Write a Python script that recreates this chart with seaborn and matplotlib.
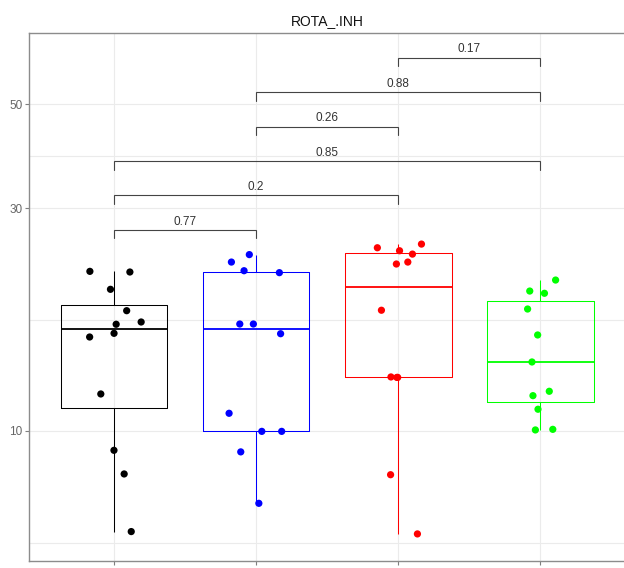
import numpy as np
import pandas as pd
import matplotlib
matplotlib.use("Agg")
import matplotlib.pyplot as plt
import seaborn as sns

# ---- data ----
groups = ["G1", "G2", "G3", "G4"]
g1_values = [21.96, 21.89, 20.10, 18.09, 17.11, 16.92, 16.18, 15.89, 12.00, 9.09, 8.09, 6.09]
g2_values = [23.85, 22.99, 22.03, 21.82, 16.94, 16.94, 16.15, 10.91, 9.98, 9.98, 9.02, 7.00]
g3_values = [25.12, 24.67, 24.31, 23.91, 22.99, 22.77, 18.13, 13.02, 13.05, 13.02, 8.06, 6.02]
g4_values = [21.04, 19.93, 19.71, 18.24, 16.05, 14.05, 12.16, 11.90, 11.13, 10.08, 10.05]
group_colors = ["#000000", "#0000FF", "#FF0000", "#00FF00"]
title = "ROTA_.INH"
y_major = [10, 30, 50]
y_minor = [5.77, 17.32, 38.73]
comparisons = [(0, 1), (0, 2), (0, 3), (1, 2), (1, 3), (2, 3)]
p_labels = ["0.77", "0.2", "0.85", "0.26", "0.88", "0.17"]

df = pd.DataFrame({
    "group": sum([[g] * len(v) for g, v in zip(groups, [g1_values, g2_values, g3_values, g4_values])], []),
    "value": g1_values + g2_values + g3_values + g4_values,
})

sns.set_style("white")
plt.rcParams["font.family"] = ["Liberation Sans", "DejaVu Sans"]

fig = plt.figure(figsize=(6.24, 5.68), dpi=100)
ax = fig.add_axes([28.7 / 624, 1 - 561.3 / 568, 596.9 / 624, 528.3 / 568])

palette = dict(zip(groups, group_colors))
sns.boxplot(data=df, x="group", y="value", hue="group", palette=palette, order=groups,
            hue_order=groups, fill=False, width=0.75, whis=1.5, showcaps=False,
            showfliers=False, log_scale=True, linewidth=0.75, legend=False, ax=ax,
            medianprops={"linewidth": 1.3}, zorder=2)

np.random.seed(7)
sns.stripplot(data=df, x="group", y="value", hue="group", palette=palette, order=groups,
              hue_order=groups, jitter=0.2, size=5.2, legend=False, ax=ax, zorder=3,
              linewidth=0)

ax.set_yscale("log")
ax.set_ylim(5.26, 71.1)
ax.set_xlim(-0.6, 3.6)
ax.set_yticks(y_major)
ax.set_yticklabels([str(v) for v in y_major])
ax.set_yticks(y_minor, minor=True)
ax.set_yticklabels([], minor=True)
ax.set_xticks(range(len(groups)))
ax.set_xticklabels([])
ax.set_xlabel("")
ax.set_ylabel("")

ax.grid(True, which="major", color="#ebebeb", linewidth=0.8, zorder=0)
ax.grid(True, which="minor", axis="y", color="#ebebeb", linewidth=0.8, zorder=0)
ax.set_axisbelow(True)
ax.tick_params(axis="y", which="major", length=3, width=0.8, color="#7f7f7f",
               labelsize=8.5, labelcolor="#666666", pad=1.5, left=True)
ax.tick_params(axis="y", which="minor", length=0)
ax.tick_params(axis="x", length=3, width=0.8, color="#7f7f7f", bottom=True)
for s in ax.spines.values():
    s.set_color("#8c8c8c")
    s.set_linewidth(1.0)

# significance brackets
base = 26.93
step = 0.0738
tip = 0.0182
for k, ((i, j), lab) in enumerate(zip(comparisons, p_labels)):
    yl = base * 10 ** (step * k)
    yt = yl / 10 ** tip
    ax.plot([i, i, j, j], [yt, yl, yl, yt], color="#444444", linewidth=0.8,
            solid_joinstyle="miter", zorder=4)
    ax.annotate(lab, xy=((i + j) / 2, yl), xytext=(0, 6.0), textcoords="offset points",
                ha="center", va="center", fontsize=8.5, color="#333333")

ax.set_title(title, fontsize=10, color="#111111", pad=6)

fig.savefig("out.png", dpi=100)
